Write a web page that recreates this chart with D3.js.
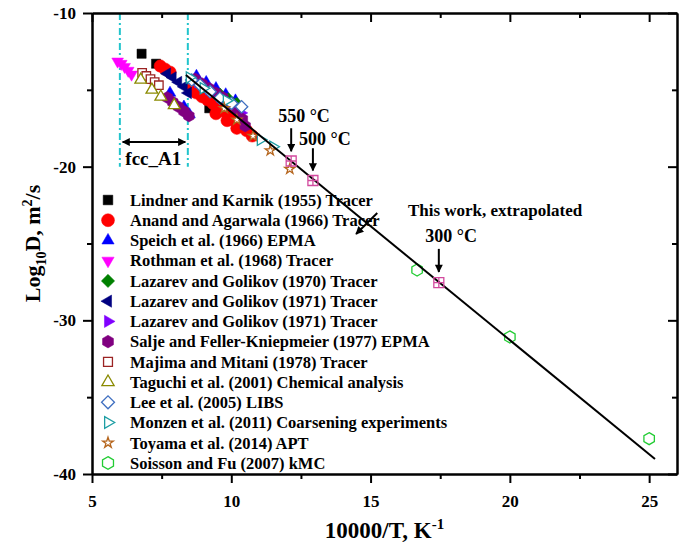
<!DOCTYPE html>
<html>
<head>
<meta charset="utf-8">
<script src="https://cdn.jsdelivr.net/npm/d3@7"></script>
<style>
  body { margin: 0; background: #fff; }
  svg text { font-family: "Liberation Serif", "Times New Roman", serif; font-weight: bold; fill: #000; }
</style>
</head>
<body>
<svg id="chart" width="684" height="546"></svg>
<script>
// ---- data (x = 10000/T in 1/K, y = log10 D in m^2/s) ----
const lindner  = [[6.78,-12.65],[7.30,-13.30],[9.21,-16.20],[9.95,-17.00]];
const anand    = [[7.45,-13.45],[7.62,-13.65],[7.80,-13.85],[8.55,-15.00],[8.75,-15.20],[8.95,-15.45],
                  [9.15,-15.65],[9.35,-15.90],[9.55,-16.15],[9.75,-16.40],[9.95,-16.70],[10.15,-17.00],
                  [10.35,-17.30],[10.55,-17.65],[10.75,-18.00],[9.45,-16.55],[9.85,-17.00],[10.20,-17.50]];
const speich   = [[7.80,-15.20],[8.30,-16.10],[8.50,-16.60],[8.75,-14.10],[9.10,-14.50],[9.45,-14.90],
                  [9.80,-15.30],[10.15,-15.70]];
const rothman  = [[5.92,-13.15],[6.05,-13.30],[6.17,-13.50],[6.30,-13.75],[6.42,-14.00]];
const lazarev70 = [[9.00,-14.80],[9.60,-15.30],[9.90,-15.60],[10.20,-15.90]];
const lazarev71a = [[7.70,-13.95],[7.90,-14.20],[8.10,-14.50],[8.30,-14.80],[8.45,-15.20]];
const lazarev71b = [[8.80,-14.50],[9.20,-14.95],[9.60,-15.45],[10.00,-15.95],[10.35,-16.50]];
const salje    = [[7.70,-15.50],[7.90,-15.80],[8.10,-16.10],[8.30,-16.40],[8.48,-16.70],
                  [8.70,-14.30],[8.95,-14.60],[9.20,-14.90],[9.45,-15.20],[9.70,-15.50],
                  [9.95,-15.90],[10.20,-16.30],[10.40,-16.90],[10.50,-17.35]];
const majima   = [[6.80,-13.90],[6.95,-14.10],[7.10,-14.30],[7.25,-14.50],[7.40,-14.70]];
const taguchi  = [[6.75,-14.35],[7.15,-15.00],[7.47,-15.45],[7.95,-16.00]];
const lee      = [[8.58,-14.36],[8.88,-14.69],[9.24,-15.12],[9.59,-15.55],[10.01,-15.88],[10.37,-16.10]];
const monzen   = [[8.50,-14.20],[9.00,-14.90],[9.83,-15.70],[11.05,-18.25],[11.50,-18.70]];
const toyama   = [[9.75,-16.20],[10.20,-16.95],[10.78,-18.00],[11.40,-18.95],[12.10,-20.15]];
const soisson  = [[16.67,-26.72],[20.00,-31.08],[25.00,-37.70]];
const thisWork = [[12.15,-19.63],[12.93,-20.90],[17.45,-27.55]];
const fitLine  = [[8.37,-14.03],[25.21,-39.02]];

const xMajor = [5, 10, 15, 20, 25];
const xMinor = [7.5, 12.5, 17.5, 22.5];
const yMajor = [-10, -20, -30, -40];
const yMinor = [-15, -25, -35];

// ---- marker shapes ----
const poly = (n, startDeg, k) => ({
  draw(ctx, size) {
    const r = Math.sqrt(size) / 2 * k;
    for (let i = 0; i < n; i++) {
      const a = (startDeg + i * 360 / n) * Math.PI / 180;
      const px = r * Math.cos(a), py = r * Math.sin(a);
      i ? ctx.lineTo(px, py) : ctx.moveTo(px, py);
    }
    ctx.closePath();
  }
});
const boxPlus = {
  draw(ctx, size) {
    const h = Math.sqrt(size) / 2;
    ctx.moveTo(-h, -h); ctx.lineTo(h, -h); ctx.lineTo(h, h); ctx.lineTo(-h, h); ctx.closePath();
    ctx.moveTo(0, -h); ctx.lineTo(0, h);
    ctx.moveTo(-h, 0); ctx.lineTo(h, 0);
  }
};
const SQUARE = poly(4, 45, 1.3), TRI_UP = poly(3, -90, 1.35), TRI_DOWN = poly(3, 90, 1.35),
      TRI_LEFT = poly(3, 180, 1.35), TRI_RIGHT = poly(3, 0, 1.35), DIAMOND = poly(4, 0, 1.3),
      HEX = poly(6, -90, 1.15);

const series = [
  { name: "Lindner and Karnik (1955) Tracer", data: lindner, type: SQUARE, color: "#000000", open: false, size: 100 },
  { name: "Anand and Agarwala (1966) Tracer", data: anand, type: d3.symbolCircle, color: "#ff0000", open: false, size: 120 },
  { name: "Speich et al. (1966) EPMA", data: speich, type: TRI_UP, color: "#0000ff", open: false, size: 100 },
  { name: "Rothman et al. (1968) Tracer", data: rothman, type: TRI_DOWN, color: "#ff00ff", open: false, size: 100 },
  { name: "Lazarev and Golikov (1970) Tracer", data: lazarev70, type: DIAMOND, color: "#008000", open: false, size: 95 },
  { name: "Lazarev and Golikov (1971) Tracer", data: lazarev71a, type: TRI_LEFT, color: "#000080", open: false, size: 100 },
  { name: "Lazarev and Golikov (1971) Tracer", data: lazarev71b, type: TRI_RIGHT, color: "#8000ff", open: false, size: 100 },
  { name: "Salje and Feller-Kniepmeier (1977) EPMA", data: salje, type: HEX, color: "#800080", open: false, size: 110 },
  { name: "Majima and Mitani (1978) Tracer", data: majima, type: SQUARE, color: "#9b2323", open: true, size: 85 },
  { name: "Taguchi et al. (2001) Chemical analysis", data: taguchi, type: TRI_UP, color: "#8a8a00", open: true, size: 100 },
  { name: "Lee et al. (2005) LIBS", data: lee, type: DIAMOND, color: "#3f6fc0", open: true, size: 90 },
  { name: "Monzen et al. (2011) Coarsening experiments", data: monzen, type: TRI_RIGHT, color: "#1e9ea4", open: true, size: 90 },
  { name: "Toyama et al. (2014) APT", data: toyama, type: d3.symbolStar, color: "#b5651d", open: true, size: 32 },
  { name: "Soisson and Fu (2007) kMC", data: soisson, type: HEX, color: "#22cc33", open: true, size: 110 }
];

const svg = d3.select("#chart");
const x = d3.scaleLinear().domain([5, 26]).range([92, 677]);
const y = d3.scaleLinear().domain([-10, -40]).range([13, 474]);

// fcc region guides
const fccGuides = [6.0, 8.44];
svg.append("g").selectAll("line").data(fccGuides).join("line")
  .attr("x1", d => x(d)).attr("x2", d => x(d))
  .attr("y1", y(-10)).attr("y2", y(-20))
  .attr("stroke", "#22c4cc").attr("stroke-width", 2).attr("stroke-dasharray", "7,3,2,3");

// arrow heads
const defs = svg.append("defs");
defs.append("marker").attr("id", "head").attr("viewBox", "0 0 10 10")
  .attr("refX", 9).attr("refY", 5).attr("markerWidth", 9).attr("markerHeight", 8)
  .attr("markerUnits", "userSpaceOnUse").attr("orient", "auto-start-reverse")
  .append("path").attr("d", "M0,0 L10,5 L0,10 Z").attr("fill", "#000");

// scatter series
const sym = d3.symbol();
series.forEach(s => {
  svg.append("g").selectAll("path").data(s.data).join("path")
    .attr("transform", d => `translate(${x(d[0])},${y(d[1])})`)
    .attr("d", sym.type(s.type).size(s.size)())
    .attr("fill", s.open ? "#fff" : s.color)
    .attr("stroke", s.color)
    .attr("stroke-width", s.open ? 1.3 : 0.5);
});

// extrapolated line
svg.append("path").datum(fitLine)
  .attr("d", d3.line().x(d => x(d[0])).y(d => y(d[1])))
  .attr("fill", "none").attr("stroke", "#000").attr("stroke-width", 2);

// this work points
svg.append("g").selectAll("path").data(thisWork).join("path")
  .attr("transform", d => `translate(${x(d[0])},${y(d[1])})`)
  .attr("d", d3.symbol().type(boxPlus).size(100)())
  .attr("fill", "none").attr("stroke", "#d24a9e").attr("stroke-width", 1.3);

// annotations
const arrows = [
  { x1: 12.15, y1: -17.5, x2: 12.15, y2: -19.0 },
  { x1: 12.93, y1: -18.8, x2: 12.93, y2: -20.25 },
  { x1: 17.45, y1: -25.35, x2: 17.45, y2: -26.85 },
  { x1: 15.24, y1: -23.02, x2: 14.48, y2: -24.38 }
];
svg.append("g").selectAll("line").data(arrows).join("line")
  .attr("x1", d => x(d.x1)).attr("y1", d => y(d.y1))
  .attr("x2", d => x(d.x2)).attr("y2", d => y(d.y2))
  .attr("stroke", "#000").attr("stroke-width", 2).attr("marker-end", "url(#head)");

svg.append("line")
  .attr("x1", x(6.1)).attr("x2", x(8.35)).attr("y1", y(-18.4)).attr("y2", y(-18.4))
  .attr("stroke", "#000").attr("stroke-width", 2)
  .attr("marker-start", "url(#head)").attr("marker-end", "url(#head)");

const labels = [
  { text: "550 °C", x: 12.61, y: -17.09, anchor: "middle", size: 18 },
  { text: "500 °C", x: 13.36, y: -18.59, anchor: "middle", size: 18 },
  { text: "300 °C", x: 17.89, y: -24.9, anchor: "middle", size: 18 },
  { text: "This work, extrapolated", x: 16.34, y: -23.21, anchor: "start", size: 17 },
  { text: "fcc_A1", x: 7.2, y: -19.9, anchor: "middle", size: 19 }
];
svg.append("g").selectAll("text").data(labels).join("text")
  .attr("x", d => x(d.x)).attr("y", d => y(d.y))
  .attr("text-anchor", d => d.anchor).style("font-size", d => d.size + "px")
  .text(d => d.text);

// axes
const fmt = d => String(d);
function styleAxis(g) {
  g.selectAll("path.domain").attr("stroke", "#000").attr("stroke-width", 2);
  g.selectAll(".tick line").attr("stroke", "#000").attr("stroke-width", 2);
  g.selectAll(".tick text").style("font-size", "17px").attr("fill", "#000");
}
svg.append("g").attr("transform", `translate(0,${y(-40)})`)
  .call(d3.axisBottom(x).tickValues(xMajor).tickFormat(fmt).tickSize(9).tickSizeOuter(0).tickPadding(12)).call(styleAxis);
svg.append("g").attr("transform", `translate(0,${y(-40)})`)
  .call(d3.axisBottom(x).tickValues(xMinor).tickFormat("").tickSize(5).tickSizeOuter(0)).call(styleAxis);
svg.append("g").attr("transform", `translate(0,${y(-10)})`)
  .call(d3.axisTop(x).tickValues(xMajor).tickFormat("").tickSize(-9).tickSizeOuter(0)).call(styleAxis);
svg.append("g").attr("transform", `translate(0,${y(-10)})`)
  .call(d3.axisTop(x).tickValues(xMinor).tickFormat("").tickSize(-5).tickSizeOuter(0)).call(styleAxis);
svg.append("g").attr("transform", `translate(${x(5)},0)`)
  .call(d3.axisLeft(y).tickValues(yMajor).tickFormat(fmt).tickSize(9).tickSizeOuter(0).tickPadding(7)).call(styleAxis);
svg.append("g").attr("transform", `translate(${x(5)},0)`)
  .call(d3.axisLeft(y).tickValues(yMinor).tickFormat("").tickSize(5).tickSizeOuter(0)).call(styleAxis);
svg.append("g").attr("transform", `translate(${x(26)},0)`)
  .call(d3.axisRight(y).tickValues(yMajor).tickFormat("").tickSize(-9).tickSizeOuter(0)).call(styleAxis);
svg.append("g").attr("transform", `translate(${x(26)},0)`)
  .call(d3.axisRight(y).tickValues(yMinor).tickFormat("").tickSize(-5).tickSizeOuter(0)).call(styleAxis);

// axis titles
const xt = svg.append("text").attr("x", (x(5) + x(26)) / 2).attr("y", 538)
  .attr("text-anchor", "middle").style("font-size", "23px");
xt.append("tspan").text("10000/T, K");
xt.append("tspan").attr("dy", -9).style("font-size", "15px").text("-1");

const yt = svg.append("text")
  .attr("transform", `translate(40,${(y(-10) + y(-40)) / 2}) rotate(-90)`)
  .attr("text-anchor", "middle").style("font-size", "22px");
yt.append("tspan").text("Log");
yt.append("tspan").attr("dy", 6).style("font-size", "14px").text("10");
yt.append("tspan").attr("dy", -6).text("D, m");
yt.append("tspan").attr("dy", -8).style("font-size", "14px").text("2");
yt.append("tspan").attr("dy", 8).text("/s");

// legend
const legend = svg.append("g").selectAll("g").data(series).join("g")
  .attr("transform", (d, i) => `translate(108,${200 + i * 20.23})`);
legend.append("path")
  .attr("d", d => d3.symbol().type(d.type).size(d.size * 1.1)())
  .attr("fill", d => d.open ? "#fff" : d.color)
  .attr("stroke", d => d.color).attr("stroke-width", d => d.open ? 1.3 : 0.5);
legend.append("text").attr("x", 22).attr("dy", "0.35em").style("font-size", "16.5px")
  .text(d => d.name);
</script>
</body>
</html>
